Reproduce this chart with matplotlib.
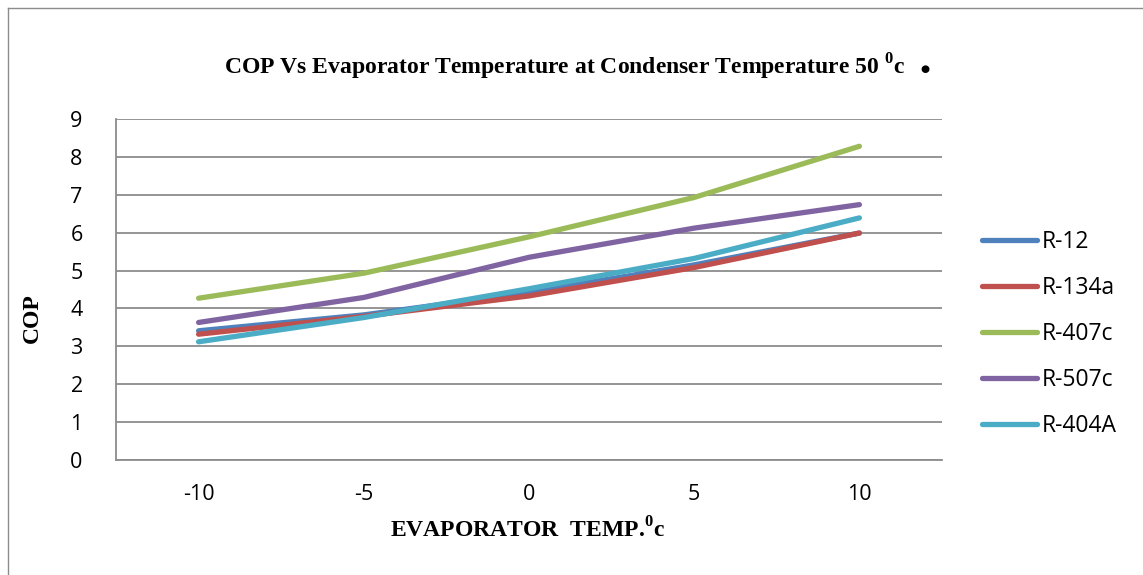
import matplotlib
matplotlib.use("Agg")
import matplotlib.pyplot as plt
from matplotlib.lines import Line2D

categories = ["-10", "-5", "0", "5", "10"]
r12 = [3.41, 3.83, 4.42, 5.15, 5.99]
r134a = [3.32, 3.79, 4.33, 5.08, 5.99]
r407c = [4.27, 4.93, 5.89, 6.93, 8.28]
r507c = [3.63, 4.29, 5.35, 6.12, 6.74]
r404a = [3.12, 3.76, 4.52, 5.32, 6.39]
series_names = ["R-12", "R-134a", "R-407c", "R-507c", "R-404A"]
colors = ["#4F81BD", "#C0504D", "#9BBB59", "#8064A2", "#4BACC6"]

plt.rcParams["mathtext.fontset"] = "custom"
plt.rcParams["mathtext.rm"] = "Liberation Serif:bold"
plt.rcParams["mathtext.bf"] = "Liberation Serif:bold"

fig = plt.figure(figsize=(11.43, 5.75), dpi=100)
W, H = 1143, 575
ax = fig.add_axes([116 / W, 1 - 460 / H, (942 - 116) / W, (460 - 119) / H])

x = list(range(len(categories)))
for vals, name, c in zip([r12, r134a, r407c, r507c, r404a], series_names, colors):
    ax.plot(x, vals, color=c, lw=3.8, label=name, solid_capstyle="round")

ax.set_xlim(-0.5, len(categories) - 0.5)
ax.set_ylim(0, 9)
ax.set_yticks(range(0, 10))
ax.set_xticks(x)
ax.set_xticklabels(categories)
ax.yaxis.grid(True, color="#8c8c8c", lw=1.3)
ax.set_axisbelow(True)
for s in ["top", "right"]:
    ax.spines[s].set_visible(False)
for s in ["left", "bottom"]:
    ax.spines[s].set_color("#8c8c8c")
    ax.spines[s].set_linewidth(1.3)
ax.tick_params(axis="both", length=0, labelsize=15.5, colors="black")
ax.tick_params(axis="y", pad=24)
ax.tick_params(axis="x", pad=17)
for lab in ax.get_xticklabels() + ax.get_yticklabels():
    lab.set_fontfamily("Open Sans")

fig.text(565 / W, 1 - 67 / H,
         r"COP Vs Evaporator Temperature at Condenser Temperature 50 $^{0}$c",
         ha="center", va="center", fontsize=17, fontweight="bold",
         family="Liberation Serif")
fig.text(925 / W, 1 - 69 / H, "\u25cf", ha="center", va="center",
         fontsize=7.5, color="black", family="DejaVu Sans")
fig.text(527 / W, 1 - 530 / H, r"EVAPORATOR  TEMP.$^{0}$c", ha="center", va="center",
         fontsize=17, fontweight="bold", family="Liberation Serif")
fig.text(32 / W, 1 - 318 / H, "COP", ha="center", va="center", rotation=90,
         fontsize=17, fontweight="bold", family="Liberation Serif")

leg = fig.legend(loc="center left", bbox_to_anchor=(982 / W, 1 - 334 / H),
                 frameon=False, prop={"family": "Open Sans", "size": 16.5},
                 handlelength=2.4, handletextpad=0.2, labelspacing=0.95,
                 borderaxespad=0, borderpad=0)
for h in leg.get_lines():
    h.set_linewidth(3.8)

fig.add_artist(Line2D([8 / W, 8 / W], [0, 1 - 8 / H], color="#8c8c8c", lw=1.0,
                      transform=fig.transFigure))
fig.add_artist(Line2D([8 / W, 1], [1 - 8 / H, 1 - 8 / H], color="#8c8c8c", lw=1.0,
                      transform=fig.transFigure))

fig.savefig("out.png", dpi=100)
